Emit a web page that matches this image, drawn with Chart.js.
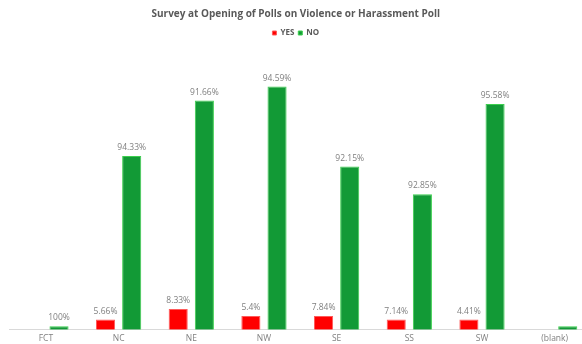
<!DOCTYPE html>
<html>
<head>
<meta charset="utf-8">
<script src="https://cdn.jsdelivr.net/npm/chart.js@4.4.1/dist/chart.umd.min.js"></script>
<style>
  html, body { margin: 0; padding: 0; background: #fff; }
  #wrap { width: 582px; height: 344px; }
</style>
</head>
<body>
<div id="wrap"><canvas id="pollChart" width="582" height="344"></canvas></div>
<script>
// Zones and response counts
const zones = ['FCT', 'NC', 'NE', 'NW', 'SE', 'SS', 'SW', '(blank)'];
const yesCounts = [0, 3, 6, 4, 4, 3, 3, 0];
const noCounts = [1, 50, 66, 70, 47, 39, 65, 1];

// share of the zone total, cut (not rounded) to 2 decimals like the sheet shows it
function shareLabel(value, i) {
    if (!value || zones[i] === '(blank)') return '';
    const total = yesCounts[i] + noCounts[i];
    const pct = Math.floor(value / total * 10000 + 1e-7) / 100;
    return String(pct) + '%';
}

// let the plot area run a bit past the right edge (last slot is cut off)
const widenArea = {
    id: 'widenArea',
    afterLayout(chart) {
        const x = chart.scales.x;
        x.right = 591;
        x.width = x.right - x.left;
        x.configure();
        chart.chartArea.right = 591;
        chart.chartArea.width = 591 - chart.chartArea.left;
    }
};

// draws the % text above every bar
const barLabels = {
    id: 'barLabels',
    afterDatasetsDraw(chart) {
        const ctx = chart.ctx;
        ctx.save();
        ctx.font = '8.5px "Open Sans", sans-serif';
        ctx.fillStyle = '#7f7f7f';
        ctx.textAlign = 'center';
        ctx.textBaseline = 'bottom';
        chart.data.datasets.forEach((ds, d) => {
            chart.getDatasetMeta(d).data.forEach((bar, i) => {
                const txt = shareLabel(ds.data[i], i);
                if (txt) ctx.fillText(txt, bar.x, bar.y - 4);
            });
        });
        ctx.restore();
    }
};

const ctx = document.getElementById('pollChart').getContext('2d');
new Chart(ctx, {
    type: 'bar',
    data: {
        labels: zones,
        datasets: [{
            label: 'YES',
            data: yesCounts,
            backgroundColor: '#ff0000',
            borderColor: '#ff5a5a',
            borderWidth: 1
        }, {
            label: 'NO',
            data: noCounts,
            backgroundColor: '#129a36',
            borderColor: '#3ccf4e',
            borderWidth: 1
        }]
    },
    options: {
        responsive: false,
        animation: false,
        layout: { padding: { left: 9.6, right: 0, top: 5, bottom: -4 } },
        datasets: {
            bar: { categoryPercentage: 0.72, barPercentage: 0.73 }
        },
        scales: {
            x: {
                grid: { display: false, drawTicks: false },
                border: { color: '#d9d9d9', width: 1 },
                ticks: {
                    color: '#7f7f7f',
                    font: { size: 8.5, family: '"Open Sans", sans-serif' },
                    padding: 4
                }
            },
            y: {
                display: false,
                min: 0,
                max: 81.4
            }
        },
        plugins: {
            title: {
                display: true,
                text: 'Survey at Opening of Polls on Violence or Harassment Poll',
                color: '#595959',
                font: { size: 10, weight: 'bold', family: '"Open Sans", sans-serif' },
                padding: { top: 3, bottom: 5 }
            },
            legend: {
                labels: {
                    usePointStyle: true,
                    pointStyle: 'rect',
                    boxWidth: 4,
                    boxHeight: 4,
                    padding: 4,
                    color: '#595959',
                    font: { size: 8, weight: 'bold', family: '"Open Sans", sans-serif' }
                }
            },
            tooltip: { enabled: false }
        }
    },
    plugins: [widenArea, barLabels]
});
</script>
</body>
</html>
